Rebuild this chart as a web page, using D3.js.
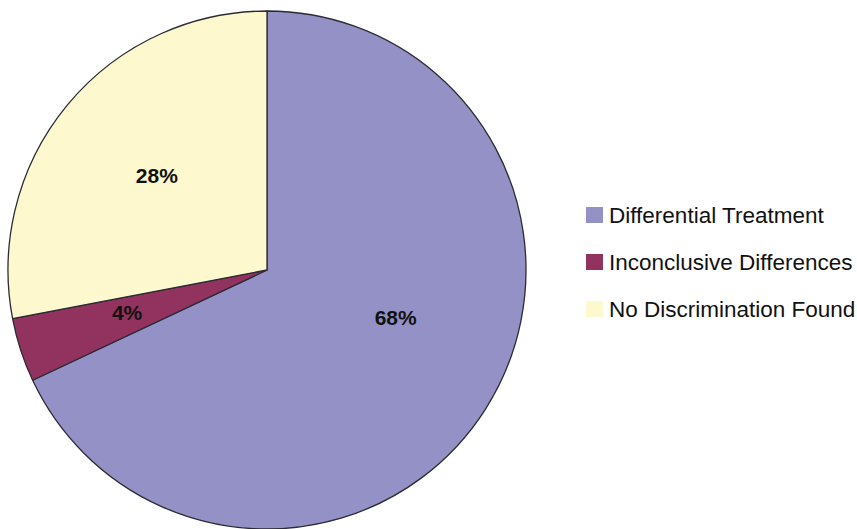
<!DOCTYPE html>
<html>
<head>
<meta charset="utf-8">
<script src="https://cdn.jsdelivr.net/npm/d3@7"></script>
<style>
  body { margin: 0; background: #fff; }
  svg { display: block; font-family: "Liberation Sans", Arial, sans-serif; }
</style>
</head>
<body>
<svg id="chart" width="857" height="529"></svg>
<script>
const categories = ['Differential Treatment', 'Inconclusive Differences', 'No Discrimination Found'];
const values = [68, 4, 28];
const colors = ['#9391c6', '#92325f', '#fdf8cd'];
// label placement per slice: fraction of radius, and angle nudge in degrees
const labelRadius = [0.53, 0.565, 0.56];
const labelAngleShift = [-12, 1, 1];

const svg = d3.select('#chart');
const cx = 267, cy = 270, radius = 259;

const pie = d3.pie().sort(null).value(d => d.value);
const arc = d3.arc().innerRadius(0).outerRadius(radius);

const data = categories.map((c, i) => ({
  name: c, value: values[i], color: colors[i],
  lr: labelRadius[i], shift: labelAngleShift[i]
}));
const arcs = pie(data);

const g = svg.append('g').attr('transform', `translate(${cx},${cy})`);

g.selectAll('path')
  .data(arcs)
  .join('path')
  .attr('d', arc)
  .attr('fill', d => d.data.color)
  .attr('stroke', '#2b2b35')
  .attr('stroke-width', 1.3)
  .attr('stroke-linejoin', 'round');

g.selectAll('text.pct')
  .data(arcs)
  .join('text')
  .attr('class', 'pct')
  .attr('transform', d => {
    const a = (d.startAngle + d.endAngle) / 2 + d.data.shift * Math.PI / 180;
    const r = radius * d.data.lr;
    return `translate(${r * Math.sin(a)},${-r * Math.cos(a)})`;
  })
  .attr('text-anchor', 'middle')
  .attr('dy', '0.36em')
  .attr('font-size', 21)
  .attr('font-weight', 'bold')
  .attr('fill', '#111')
  .text(d => d.data.value + '%');

// Legend
const legend = svg.append('g').attr('transform', 'translate(586,215)');
const row = legend.selectAll('g')
  .data(data)
  .join('g')
  .attr('transform', (d, i) => `translate(0,${i * 47})`);

row.append('rect')
  .attr('x', 0).attr('y', -8)
  .attr('width', 17).attr('height', 16)
  .attr('fill', d => d.color);

row.append('text')
  .attr('x', 23)
  .attr('dy', '0.36em')
  .attr('font-size', 22.5)
  .attr('fill', '#111')
  .text(d => d.name);
</script>
</body>
</html>
